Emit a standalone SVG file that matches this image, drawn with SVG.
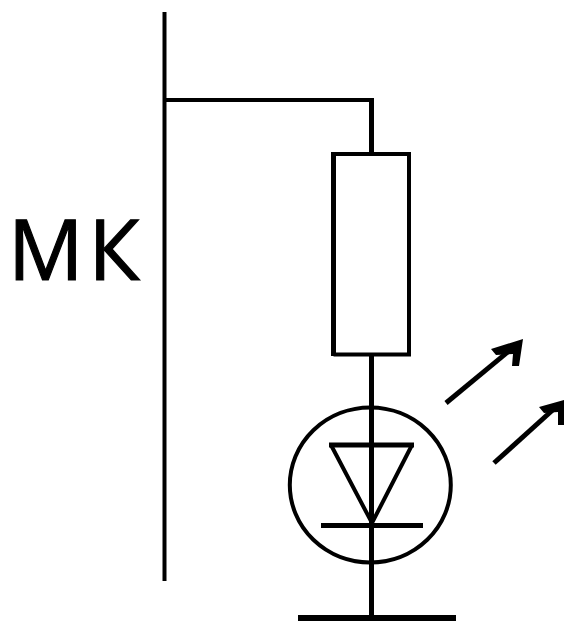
<svg xmlns="http://www.w3.org/2000/svg" width="564" height="621" viewBox="0 0 564 621">
<style>
.w{fill:none;stroke:#000;stroke-width:4}
.t{fill:none;stroke:#000;stroke-width:5}
.a{fill:none;stroke:#000;stroke-width:5}
.h{fill:#000;stroke:none}
text{font-family:"Open Sans","Noto Sans",sans-serif;font-size:84px;letter-spacing:5px;fill:#000;stroke:#000;stroke-width:1.200}
</style>
<rect width="564" height="621" fill="#fff"/>
<g id="connectors">
<path class="w" d="M164.500 12V581"/>
<path class="w" d="M164.500 100H371.500"/>
<path class="t" d="M371.500 98V154"/>
<path class="t" d="M371.500 354V617"/>
</g>
<g id="resistor"><path class="w" d="M333.500 154H409V354.500H333.500"/><path class="t" d="M333.500 152V356"/></g>
<g id="led">
<ellipse class="w" cx="370.300" cy="485" rx="80.500" ry="77.500"/>
<path class="w" d="M331 445L372 523L412 445"/>
<path class="t" d="M329 445H414"/>
<path class="t" d="M321 525.500H423"/>
</g>
<g id="ground"><path d="M298 618H456" fill="none" stroke="#000" stroke-width="6"/></g>
<g id="arrow1"><path class="a" d="M446 403L515 346"/><path class="h" d="M491 349L523 339L519 366H512L513 354L496 355Z"/></g>
<g id="arrow2"><path class="a" d="M494 463L556 407"/><path class="h" d="M539 407L564 400V425H558V412L544 413Z"/></g>
<g id="label"><text x="8" y="280">МК</text></g>
</svg>
